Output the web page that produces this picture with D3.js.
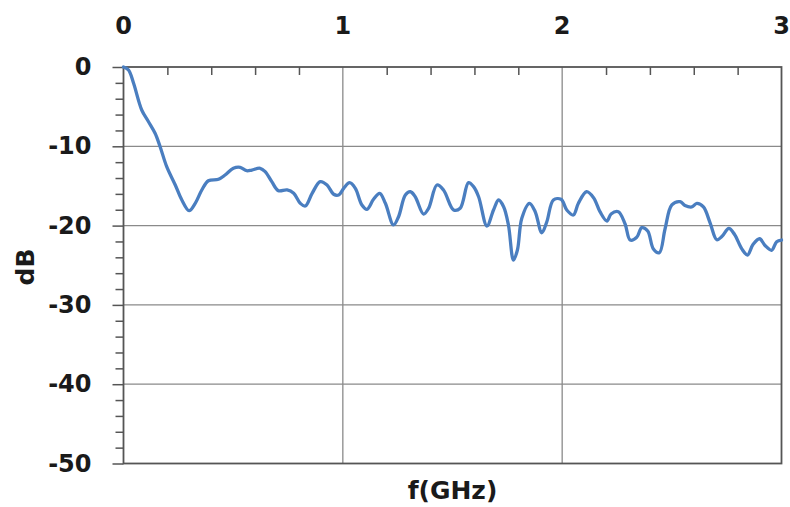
<!DOCTYPE html>
<html>
<head>
<meta charset="utf-8">
<script src="https://cdn.jsdelivr.net/npm/d3@7"></script>
<style>
  html, body { margin: 0; padding: 0; background: #fff; }
  svg { display: block; }
  text { font-family: "DejaVu Sans", sans-serif; font-weight: bold; fill: #1a1a1a; }
</style>
</head>
<body>
<svg id="chart" width="790" height="507"></svg>
<script>
// ---- data ----
const freqGHz = [0.000,0.023,0.046,0.083,0.114,0.144,0.167,0.197,0.236,0.266,0.299,0.327,0.357,0.387,0.433,0.463,0.501,0.532,0.562,0.585,0.623,0.646,0.676,0.706,0.746,0.776,0.806,0.829,0.860,0.897,0.928,0.958,0.981,1.004,1.031,1.057,1.087,1.110,1.140,1.168,1.194,1.231,1.254,1.285,1.308,1.330,1.368,1.391,1.429,1.459,1.505,1.535,1.573,1.596,1.619,1.657,1.687,1.710,1.733,1.755,1.778,1.796,1.816,1.851,1.877,1.907,1.930,1.960,1.995,2.021,2.051,2.074,2.111,2.143,2.173,2.204,2.223,2.256,2.287,2.310,2.340,2.363,2.390,2.416,2.443,2.469,2.500,2.538,2.560,2.591,2.614,2.644,2.674,2.705,2.729,2.760,2.786,2.819,2.845,2.870,2.900,2.925,2.955,2.978,3.000];
const dBValues = [0.0,-0.38,-2.06,-5.42,-6.90,-8.36,-10.05,-12.57,-14.88,-16.77,-18.12,-17.19,-15.51,-14.34,-14.16,-13.62,-12.77,-12.65,-13.08,-12.99,-12.77,-13.20,-14.46,-15.60,-15.51,-15.93,-17.19,-17.53,-15.93,-14.46,-14.88,-16.05,-16.14,-15.30,-14.59,-15.30,-17.40,-17.94,-16.68,-15.93,-17.19,-19.92,-18.88,-16.14,-15.73,-16.36,-18.54,-17.82,-14.88,-15.51,-18.03,-17.82,-14.59,-15.09,-16.36,-20.05,-18.03,-16.77,-17.62,-19.92,-24.34,-23.08,-19.08,-17.19,-18.25,-20.90,-19.51,-16.77,-16.68,-18.03,-18.66,-17.19,-15.73,-16.48,-18.28,-19.42,-18.54,-18.25,-19.80,-21.82,-21.48,-20.26,-20.68,-22.95,-23.42,-20.43,-17.40,-16.99,-17.47,-17.65,-17.19,-17.65,-19.61,-21.78,-21.35,-20.34,-21.12,-22.93,-23.71,-22.38,-21.66,-22.51,-23.11,-22.03,-21.82];
const xTickValues = [0, 1, 2, 3];
const xTickLabels = ["0", "1", "2", "3"];
const yTickValues = [0, -10, -20, -30, -40, -50];
const yTickLabels = ["0", "-10", "-20", "-30", "-40", "-50"];
const xTitle = "f(GHz)";
const yTitle = "dB";

// ---- layout ----
const svg = d3.select("#chart");
const L = 123.5, R = 781.5, T = 67, B = 463.5;
const x = d3.scaleLinear().domain([0, 3]).range([L, R]);
const y = d3.scaleLinear().domain([0, -50]).range([T, B]);

const grid = svg.append("g");
grid.selectAll("line.vg").data([1, 2]).enter().append("line")
  .attr("x1", d => x(d)).attr("x2", d => x(d))
  .attr("y1", T).attr("y2", B)
  .attr("stroke", "#8a8a8a").attr("stroke-width", 1.3);
grid.selectAll("line.hg").data([-10, -20, -30, -40]).enter().append("line")
  .attr("x1", L).attr("x2", R)
  .attr("y1", d => y(d)).attr("y2", d => y(d))
  .attr("stroke", "#8a8a8a").attr("stroke-width", 1.3);

// top axis: minor ticks inward every 0.2
const xMinor = d3.range(0, 3.0001, 0.2).filter(v => Math.abs(v - Math.round(v)) > 1e-6);
const topAxis = d3.axisTop(x).tickValues(xMinor).tickSize(-8).tickFormat("");
const gTop = svg.append("g").attr("transform", `translate(0,${T})`).call(topAxis);
gTop.select(".domain").remove();
gTop.selectAll(".tick line").attr("stroke", "#555").attr("stroke-width", 1.5);

svg.selectAll("text.xl").data(xTickValues).enter().append("text")
  .attr("x", d => x(d)).attr("y", 26)
  .attr("text-anchor", "middle").attr("dominant-baseline", "central")
  .attr("font-size", 24)
  .text((d, i) => xTickLabels[i]);

// left axis: minor ticks outward every 2 dB, major every 10
const yMinor = d3.range(0, -50.0001, -2).filter(v => v % 10 !== 0);
const leftMinor = d3.axisLeft(y).tickValues(yMinor).tickSize(8).tickFormat("");
const gLm = svg.append("g").attr("transform", `translate(${L},0)`).call(leftMinor);
gLm.select(".domain").remove();
gLm.selectAll(".tick line").attr("stroke", "#555").attr("stroke-width", 1.5);
const leftMajor = d3.axisLeft(y).tickValues(yTickValues).tickSize(11).tickPadding(21)
  .tickFormat((d, i) => yTickLabels[i]);
const gLM = svg.append("g").attr("transform", `translate(${L},0)`).call(leftMajor);
gLM.select(".domain").remove();
gLM.selectAll(".tick line").attr("stroke", "#555").attr("stroke-width", 1.5);
gLM.selectAll(".tick text").attr("font-size", 24).attr("font-family", "DejaVu Sans")
  .attr("font-weight", "bold").attr("fill", "#1a1a1a");

// plot border
svg.append("rect").attr("x", L).attr("y", T).attr("width", R - L).attr("height", B - T)
  .attr("fill", "none").attr("stroke", "#555").attr("stroke-width", 1.8);

// data line
const pts = freqGHz.map((f, i) => [f, dBValues[i]]);
const line = d3.line().x(d => x(d[0])).y(d => y(d[1])).curve(d3.curveCatmullRom.alpha(0.5));
svg.append("path").datum(pts).attr("d", line)
  .attr("fill", "none").attr("stroke", "#4a7ec0").attr("stroke-width", 3.3)
  .attr("stroke-linejoin", "round").attr("stroke-linecap", "round");

// titles
svg.append("text").attr("x", x(1.5)).attr("y", 490)
  .attr("text-anchor", "middle").attr("dominant-baseline", "central")
  .attr("font-size", 25).text(xTitle);
svg.append("text").attr("transform", "translate(25,267) rotate(-90)")
  .attr("text-anchor", "middle").attr("dominant-baseline", "central")
  .attr("font-size", 25).text(yTitle);
</script>
</body>
</html>
